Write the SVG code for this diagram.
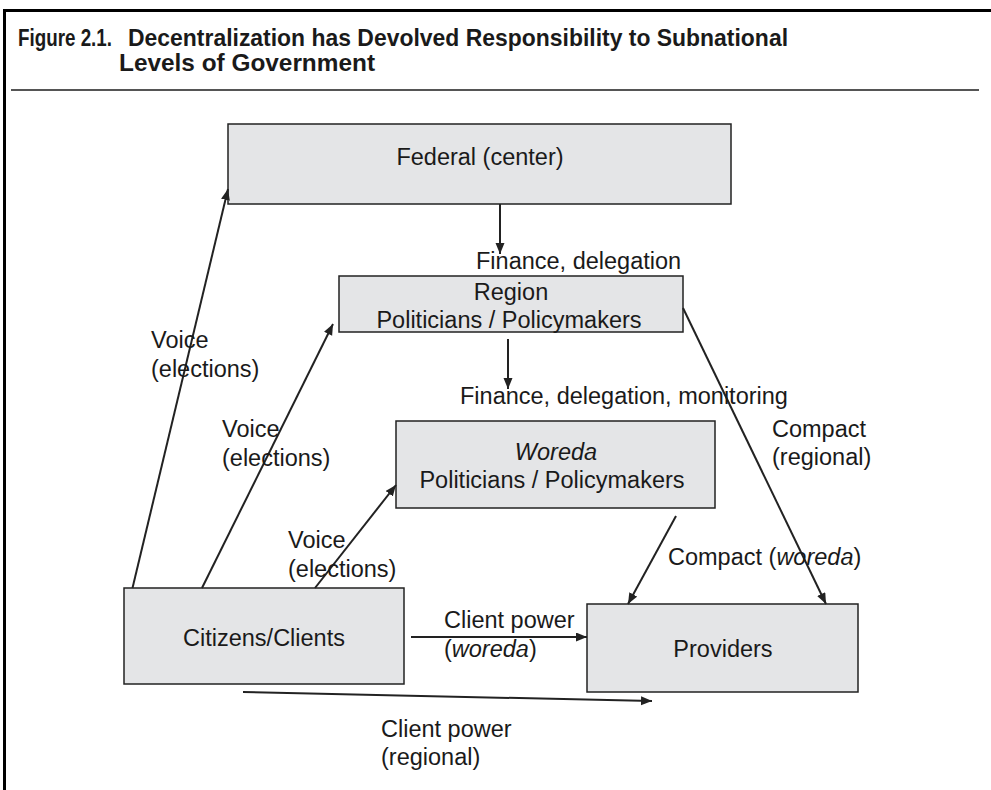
<svg xmlns="http://www.w3.org/2000/svg" width="991" height="790" viewBox="0 0 991 790">
<style>
.t{font-family:"Liberation Sans",Arial,sans-serif;font-size:23.5px;fill:#1a1a1a}
.ttl{font-family:"Liberation Sans",Arial,sans-serif;font-weight:bold;font-size:24px;fill:#1a1a1a}
.box{fill:#e4e5e7;stroke:#222;stroke-width:1.5}
.ln{stroke:#222;stroke-width:2;fill:none;marker-end:url(#ah)}
.m{text-anchor:middle}
</style>
<defs>
<marker id="ah" markerUnits="userSpaceOnUse" markerWidth="12" markerHeight="10" refX="11" refY="4.5" orient="auto">
<path d="M0,0 L11,4.5 L0,9 z" fill="#222"/>
</marker>
</defs>
<rect width="991" height="790" fill="#fff"/>
<g id="frame">
<line x1="3" y1="10.5" x2="991" y2="10.5" stroke="#000" stroke-width="3"/>
<line x1="4.5" y1="9" x2="4.5" y2="790" stroke="#000" stroke-width="3"/>
<line x1="11" y1="90" x2="979" y2="90" stroke="#555" stroke-width="2"/>
</g>
<g id="title">
<text class="ttl" x="18" y="46" textLength="94" lengthAdjust="spacingAndGlyphs">Figure 2.1.</text>
<text class="ttl" x="128" y="46" textLength="660" lengthAdjust="spacingAndGlyphs">Decentralization has Devolved Responsibility to Subnational</text>
<text class="ttl" x="119" y="71" textLength="256" lengthAdjust="spacingAndGlyphs">Levels of Government</text>
</g>
<g id="federal">
<rect class="box" x="228" y="124" width="503" height="80"/>
<text class="t m" x="480" y="165">Federal (center)</text>
</g>
<g id="region">
<rect class="box" x="339" y="276" width="344" height="56"/>
<text class="t m" x="511" y="300">Region</text>
<text class="t m" x="509" y="328">Politicians / Policymakers</text>
</g>
<g id="woreda">
<rect class="box" x="396" y="421" width="319" height="87"/>
<text class="t m" x="556" y="460" font-style="italic">Woreda</text>
<text class="t m" x="552" y="488">Politicians / Policymakers</text>
</g>
<g id="citizens">
<rect class="box" x="124" y="588" width="280" height="96"/>
<text class="t m" x="264" y="646">Citizens/Clients</text>
</g>
<g id="providers">
<rect class="box" x="587" y="604" width="271" height="88"/>
<text class="t m" x="723" y="657">Providers</text>
</g>
<g id="connectors">
<line class="ln" x1="500" y1="204" x2="500" y2="254"/>
<line class="ln" x1="508" y1="339" x2="508" y2="389"/>
<line class="ln" x1="132.5" y1="588" x2="228" y2="189"/>
<line class="ln" x1="202" y1="588" x2="333" y2="324"/>
<line class="ln" x1="315" y1="588" x2="396" y2="485"/>
<line class="ln" x1="676" y1="516" x2="628" y2="604"/>
<line class="ln" x1="683" y1="308" x2="826" y2="604"/>
<line class="ln" x1="411" y1="637" x2="587" y2="637"/>
<line class="ln" x1="243" y1="692" x2="652" y2="701"/>
</g>
<g id="labels">
<text class="t" x="476" y="269">Finance, delegation</text>
<text class="t" x="460" y="404">Finance, delegation, monitoring</text>
<text class="t" x="151" y="348">Voice</text>
<text class="t" x="151" y="377">(elections)</text>
<text class="t" x="222" y="437">Voice</text>
<text class="t" x="222" y="466">(elections)</text>
<text class="t" x="288" y="548">Voice</text>
<text class="t" x="288" y="577">(elections)</text>
<text class="t" x="772" y="437">Compact</text>
<text class="t" x="772" y="465">(regional)</text>
<text class="t" x="668" y="565">Compact (<tspan font-style="italic">woreda</tspan>)</text>
<text class="t" x="444" y="628">Client power</text>
<text class="t" x="444" y="657">(<tspan font-style="italic">woreda</tspan>)</text>
<text class="t" x="381" y="737">Client power</text>
<text class="t" x="381" y="765">(regional)</text>
</g>
</svg>
